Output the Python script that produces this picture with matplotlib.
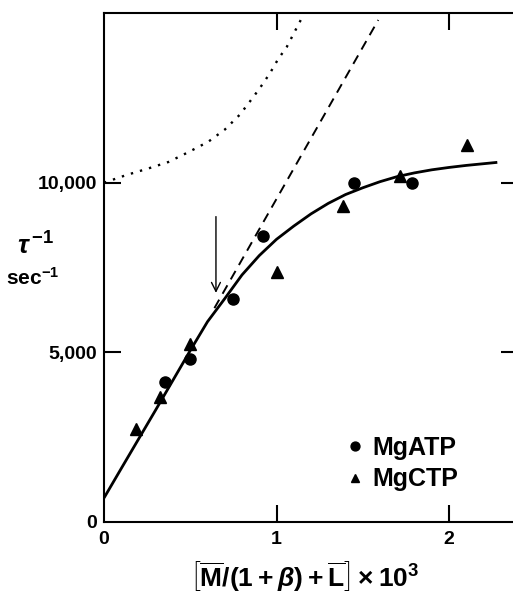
import matplotlib
matplotlib.use("Agg")
import matplotlib.pyplot as plt

plt.rcParams['font.family'] = ['Liberation Sans', 'DejaVu Sans']
plt.rcParams['font.weight'] = 'bold'
plt.rcParams['mathtext.fontset'] = 'custom'
plt.rcParams['mathtext.rm'] = 'Liberation Sans:bold'
plt.rcParams['mathtext.it'] = 'Liberation Sans:italic:bold'
plt.rcParams['mathtext.bf'] = 'Liberation Sans:bold'

# data
atp_x = [0.354, 0.499, 0.748, 0.922, 1.449, 1.786]
atp_y = [4116, 4801, 6578, 8418, 9991, 9991]

ctp_x = [0.186, 0.325, 0.499, 1.003, 1.386, 1.716, 2.104]
ctp_y = [2724, 3670, 5243, 7374, 9305, 10198, 11122]

# fitted curve (solid)
fit_x = [0, 0.1, 0.3, 0.5, 0.6, 0.7, 0.8, 0.9, 1.0, 1.1, 1.2, 1.3, 1.4,
         1.5, 1.6, 1.7, 1.8, 1.9, 2.0, 2.1, 2.2, 2.28]
fit_y = [700, 1570, 3300, 5050, 5900, 6580, 7280, 7850, 8330, 8720, 9080,
         9390, 9650, 9850, 10030, 10180, 10290, 10380, 10450, 10510, 10560, 10600]

# initial slope (dashed)
tan_x = [0.64, 1.59]
tan_y = [6300, 14800]

# dotted curve
dot_x = [0, 0.132, 0.257, 0.373, 0.489, 0.605, 0.701, 0.788, 0.866, 0.917,
         0.962, 1.010, 1.059, 1.112, 1.150]
dot_y = [10000, 10230, 10420, 10610, 10900, 11210, 11570, 12010, 12530, 12890,
         13230, 13650, 14000, 14520, 14890]

fig = plt.figure(figsize=(5.13, 5.95), dpi=100)
ax = fig.add_axes([104 / 513, 73.3 / 595, 414 / 513, 508.5 / 595])

ax.plot(fit_x, fit_y, color='black', lw=2.0, solid_capstyle='butt')
ax.plot(tan_x, tan_y, color='black', lw=1.4, linestyle=(0, (5, 3.5)))
ax.plot(dot_x, dot_y, color='black', lw=1.7, linestyle=(0, (1, 3)))

ax.plot(atp_x, atp_y, 'o', color='black', markersize=8, label='MgATP')
ax.plot(ctp_x, ctp_y, '^', color='black', markersize=8, label='MgCTP')

ax.annotate('', xy=(0.649, 6750), xytext=(0.649, 9000),
            arrowprops=dict(arrowstyle='->', lw=1.0, color='black',
                            mutation_scale=16, shrinkA=0, shrinkB=0))

ax.set_xlim(0, 2.4)
ax.set_ylim(0, 15000)
ax.set_xticks([0, 1, 2])
ax.set_xticklabels(['0', '1', '2'])
ax.set_yticks([0, 5000, 10000])
ax.set_yticklabels(['0', '5,000', '10,000'])

for s in ax.spines.values():
    s.set_linewidth(1.5)

ax.tick_params(direction='in', length=12, width=1.5, labelsize=14,
               top=True, right=True)
ax.tick_params(axis='x', pad=7)
ax.tick_params(axis='y', pad=5)
# no tick marks at the origin
for t in ax.xaxis.get_major_ticks()[:1] + ax.yaxis.get_major_ticks()[:1]:
    t.tick1line.set_visible(False)
    t.tick2line.set_visible(False)

leg = ax.legend(loc='lower left', bbox_to_anchor=(0.555, 0.035), frameon=False,
                prop={'size': 18, 'weight': 'bold'}, handlelength=0.7,
                handletextpad=0.35, labelspacing=0.3, borderpad=0,
                markerscale=0.8)

fig.text(305 / 513, 1 - 576 / 595,
         r'$\left[\overline{\mathrm{M}}/(1+\beta)+\overline{\mathrm{L}}\right]\times10^3$',
         fontsize=19, ha='center', va='center')

fig.text(36 / 513, 1 - 246 / 595, r'$\tau^{\,\mathbf{-1}}$', fontsize=19,
         ha='center', va='center')
fig.text(33 / 513, 1 - 278 / 595, r'sec$^{-1}$', fontsize=15,
         ha='center', va='center')

fig.savefig('out.png', dpi=100)
